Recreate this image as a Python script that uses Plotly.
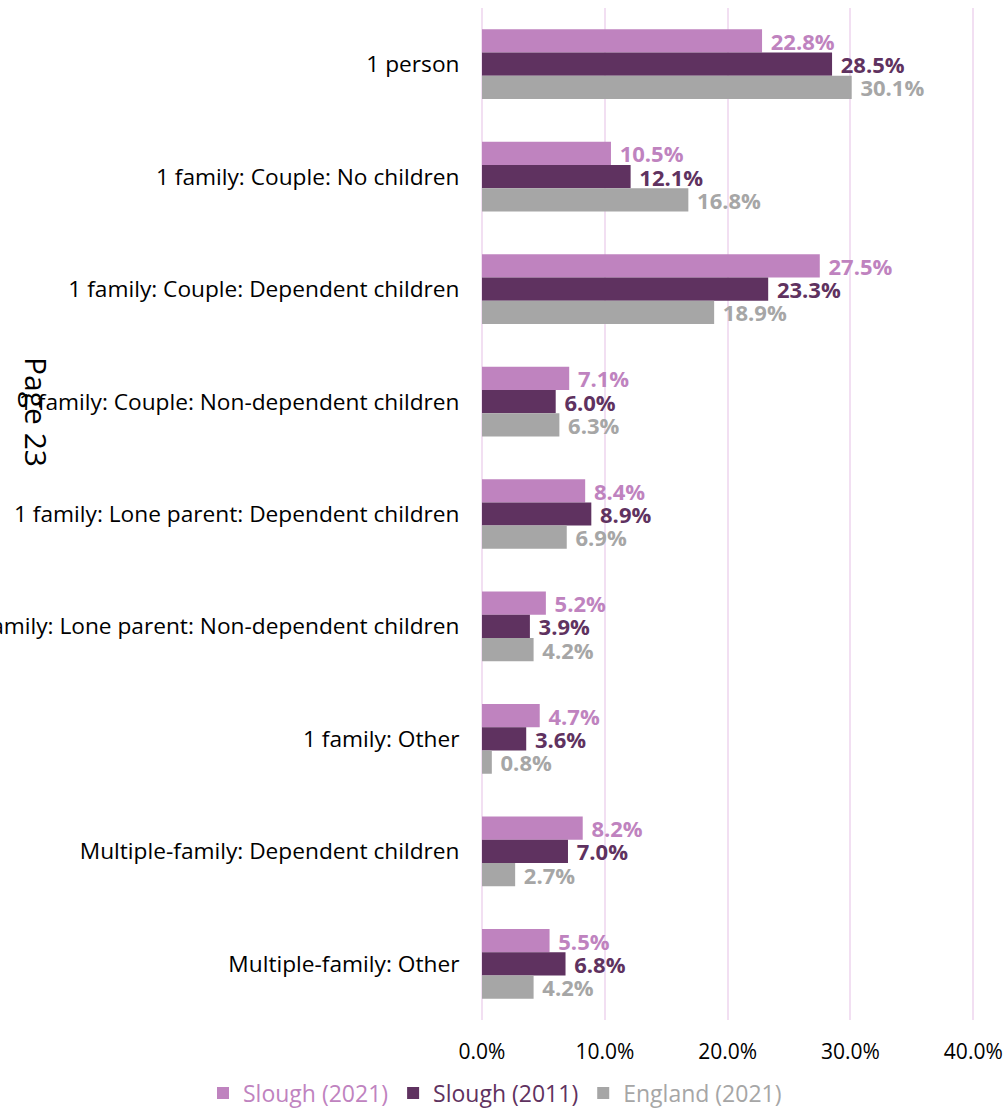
import plotly.graph_objects as go

categories = [
    "1 person",
    "1 family: Couple: No children",
    "1 family: Couple: Dependent children",
    "1 family: Couple: Non-dependent children",
    "1 family: Lone parent: Dependent children",
    "1 family: Lone parent: Non-dependent children",
    "1 family: Other",
    "Multiple-family: Dependent children",
    "Multiple-family: Other",
]
slough_2021 = [22.8, 10.5, 27.5, 7.1, 8.4, 5.2, 4.7, 8.2, 5.5]
slough_2011 = [28.5, 12.1, 23.3, 6.0, 8.9, 3.9, 3.6, 7.0, 6.8]
england_2021 = [30.1, 16.8, 18.9, 6.3, 6.9, 4.2, 0.8, 2.7, 4.2]
x_ticks = [0, 10, 20, 30, 40]
x_tick_labels = ["0.0%", "10.0%", "20.0%", "30.0%", "40.0%"]

series = [
    ("Slough (2021)", slough_2021, "#BF83BF"),
    ("Slough (2011)", slough_2011, "#5F3260"),
    ("England (2021)", england_2021, "#A6A6A6"),
]

FONT = "Open Sans"
GRID = "#F2DFF2"
W, H = 1006, 1108
L, R, T, B = 482, 29, 8, 88
plot_h = H - T - B
plot_w = W - L - R

fig = go.Figure()
for name, vals, col in series:
    fig.add_trace(go.Bar(
        y=categories, x=vals, orientation="h",
        name=f"<span style='color:{col}'>{name}</span>",
        marker=dict(color=col, line=dict(width=0)),
        text=[f" {v:.1f}%" for v in vals],
        textposition="outside",
        constraintext="none",
        textfont=dict(family=FONT, size=22, color=col, weight="bold"),
        cliponaxis=False,
    ))

fig.update_layout(
    width=W, height=H,
    margin=dict(l=L, r=R, t=T, b=B, autoexpand=False),
    barmode="group", bargap=0.38, bargroupgap=0,
    plot_bgcolor="white", paper_bgcolor="white",
    font=dict(family=FONT, size=21, color="#000000"),
    showlegend=True,
    legend=dict(orientation="h", x=(203 - L) / plot_w, xanchor="left",
                y=-(1093 - (H - B)) / plot_h, yanchor="middle",
                font=dict(size=23), traceorder="normal", itemwidth=30,
                tracegroupgap=0),
)
# range runs a little past 40 so the last gridline is still drawn
fig.update_xaxes(range=[0, 40.3], tickvals=x_ticks, ticktext=x_tick_labels,
                 showgrid=True, gridcolor=GRID, gridwidth=2,
                 zeroline=True, zerolinecolor=GRID, zerolinewidth=2,
                 showline=False, ticks="outside", ticklen=13, tickcolor="rgba(0,0,0,0)",
                 tickfont=dict(size=21), automargin=False, ticklabeloverflow="allow")
fig.update_yaxes(autorange="reversed", showgrid=False, showline=False,
                 ticks="outside", ticklen=17, tickcolor="rgba(0,0,0,0)",
                 tickfont=dict(size=22.7), automargin=False, ticklabeloverflow="allow")

fig.add_annotation(text="Page 23", xref="paper", yref="paper",
                   x=(37 - L) / plot_w, y=1 - (412 - T) / plot_h, textangle=90,
                   showarrow=False, font=dict(size=30, color="#000000"),
                   xanchor="center", yanchor="middle")

# drop the default 8px body margin so the figure fills the window
fig.write_html("out.html", config={"displayModeBar": False},
               post_script="document.body.style.margin='0';")
